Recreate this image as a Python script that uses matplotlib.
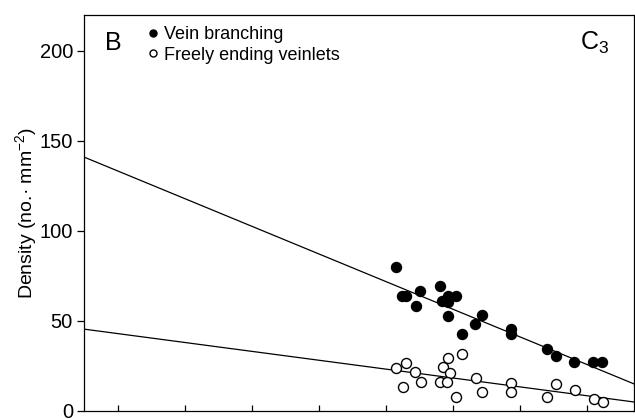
import numpy as np
import matplotlib
matplotlib.use("Agg")
import matplotlib.pyplot as plt

plt.rcParams['font.family'] = ['Liberation Sans', 'DejaVu Sans']
plt.rcParams['mathtext.fontset'] = 'custom'
plt.rcParams['mathtext.rm'] = 'Liberation Sans'
plt.rcParams['mathtext.it'] = 'Liberation Sans'

# vein branching (filled)
branch_x = [5.15, 5.23, 5.30, 5.51, 5.44, 5.80, 5.84, 5.93, 5.92, 6.04, 5.93,
            6.13, 6.33, 6.43, 6.86, 6.86, 7.40, 7.54, 7.81, 8.09, 8.23]
branch_y = [79.8, 64.1, 64.1, 66.7, 58.3, 69.3, 61.3, 64.1, 60.7, 63.9, 52.8,
            42.6, 48.2, 53.3, 45.4, 42.9, 34.4, 30.7, 27.1, 27.1, 27.1]

# freely ending veinlets (open)
free_x = [5.15, 5.29, 5.25, 5.43, 5.52, 5.85, 5.93, 5.95, 5.80, 5.91, 6.13,
          6.04, 6.34, 6.43, 6.86, 6.86, 7.40, 7.54, 7.82, 8.10, 8.24]
free_y = [23.7, 26.5, 13.5, 21.5, 15.9, 24.3, 29.4, 21.1, 15.9, 15.9, 31.7,
          7.6, 18.2, 10.4, 15.6, 10.6, 7.6, 15.2, 11.7, 6.7, 4.8]

# fitted lines (intercept, slope)
branch_fit = (148.6, -15.35)
free_fit = (47.9, -4.93)

y_ticks = [0, 50, 100, 150, 200]
x_ticks = [1, 2, 3, 4, 5, 6, 7, 8]

fig = plt.figure(figsize=(6.35, 4.19), dpi=100)
ax = fig.add_axes([0.1323, 0.0191, 0.8661, 0.9451])

xlim = (0.49, 8.70)
xx = np.array(xlim)
ax.plot(xx, branch_fit[0] + branch_fit[1] * xx, color='black', lw=0.9, zorder=1)
ax.plot(xx, free_fit[0] + free_fit[1] * xx, color='black', lw=0.9, zorder=1)

ax.plot(branch_x, branch_y, 'o', ms=7.2, color='black', mec='black',
        label='Vein branching', zorder=3)
ax.plot(free_x, free_y, 'o', ms=7.2, mfc='white', mec='black', mew=1.0,
        label='Freely ending veinlets', zorder=3)

ax.set_xlim(*xlim)
ax.set_ylim(0, 220)
ax.set_yticks(y_ticks)
ax.set_xticks(x_ticks)
ax.set_xticklabels([])
ax.tick_params(axis='y', direction='out', length=5, width=0.9, labelsize=14.5, pad=3)
ax.tick_params(axis='x', direction='in', length=4, width=0.9)
for s in ax.spines.values():
    s.set_linewidth(0.9)

ax.set_ylabel('Density (no.· mm$^{-2}$)', fontsize=14, labelpad=0.5)

ax.text(0.038, 0.929, 'B', transform=ax.transAxes, fontsize=18, va='center', ha='left')
ax.text(0.902, 0.929, 'C$_3$', transform=ax.transAxes, fontsize=18, va='center', ha='left')

leg = ax.legend(loc='upper left', bbox_to_anchor=(0.09, 1.008), frameon=False,
                fontsize=13, markerscale=0.7, handlelength=0.6, handletextpad=0.3,
                labelspacing=0.18, borderpad=0.3)

fig.savefig('out.png', dpi=100)
